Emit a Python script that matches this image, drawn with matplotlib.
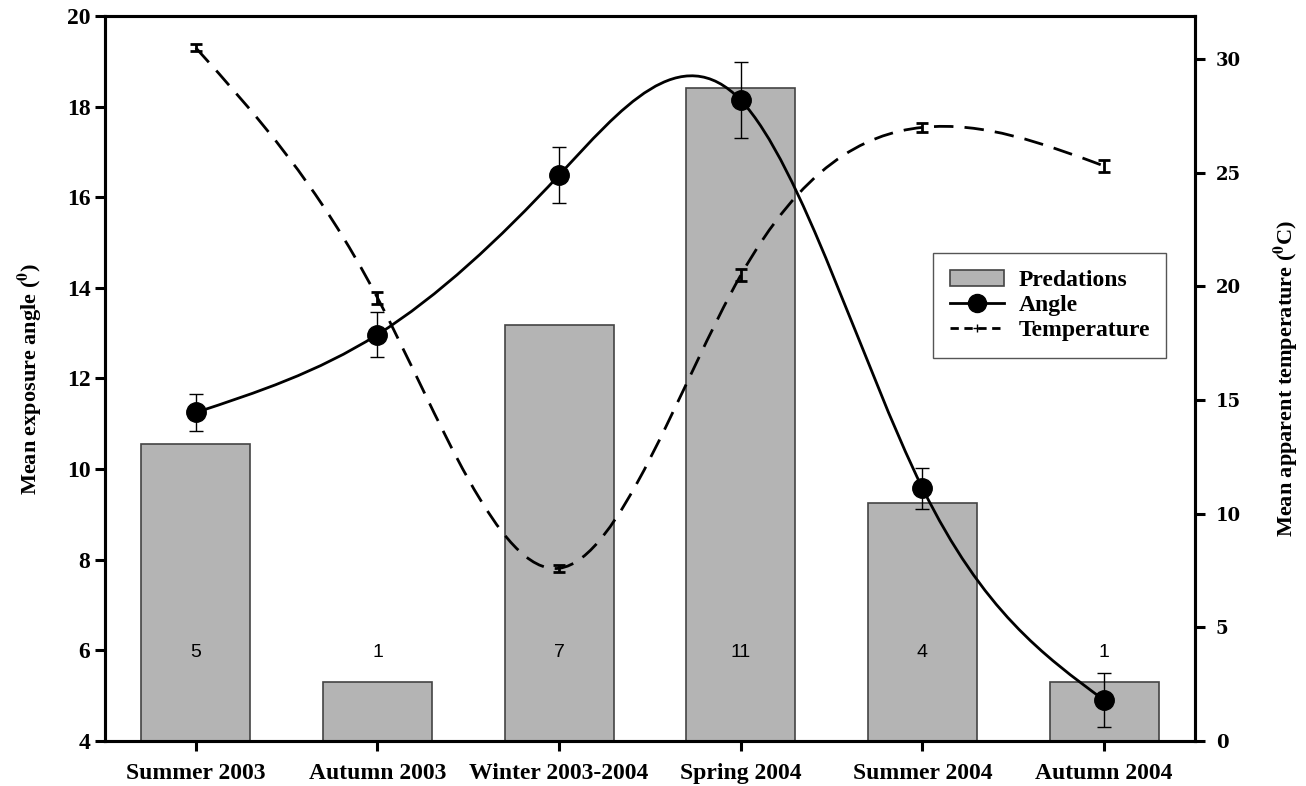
import numpy as np
import matplotlib
matplotlib.use("Agg")
import matplotlib.pyplot as plt
from matplotlib.path import Path
from matplotlib.patches import PathPatch, Patch
from matplotlib.lines import Line2D

plt.rcParams['font.family'] = ['Liberation Serif', 'DejaVu Serif']
plt.rcParams['mathtext.fontset'] = 'stix'

seasons = ['Summer 2003', 'Autumn 2003', 'Winter 2003-2004', 'Spring 2004', 'Summer 2004', 'Autumn 2004']
bar_height = [10.55, 5.30, 13.18, 18.42, 9.25, 5.30]
predations = [5, 1, 7, 11, 4, 1]
angle = [11.25, 12.97, 16.49, 18.14, 9.58, 4.90]
angle_err = [0.40, 0.50, 0.62, 0.84, 0.45, 0.60]
temperature = [30.5, 19.5, 7.6, 20.5, 27.0, 25.3]
temp_err = [0.15, 0.25, 0.15, 0.25, 0.20, 0.25]


# natural cubic spline drawn as bezier segments (like the sigmaplot spline curve)
def spline_path(x, y):
    x = np.asarray(x, float)
    y = np.asarray(y, float)
    n = len(x) - 1
    h = np.diff(x)
    A = np.zeros((n + 1, n + 1))
    r = np.zeros(n + 1)
    A[0, 0] = 1
    A[n, n] = 1
    for i in range(1, n):
        A[i, i - 1] = h[i - 1]
        A[i, i] = 2 * (h[i - 1] + h[i])
        A[i, i + 1] = h[i]
        r[i] = 6 * ((y[i + 1] - y[i]) / h[i] - (y[i] - y[i - 1]) / h[i - 1])
    M = np.linalg.solve(A, r)
    m = np.zeros(n + 1)
    for i in range(n):
        m[i] = (y[i + 1] - y[i]) / h[i] - h[i] * (2 * M[i] + M[i + 1]) / 6
    m[n] = (y[n] - y[n - 1]) / h[n - 1] + h[n - 1] * (M[n - 1] + 2 * M[n]) / 6
    verts = [(x[0], y[0])]
    codes = [Path.MOVETO]
    for i in range(n):
        verts += [(x[i] + h[i] / 3, y[i] + m[i] * h[i] / 3),
                  (x[i + 1] - h[i] / 3, y[i + 1] - m[i + 1] * h[i] / 3),
                  (x[i + 1], y[i + 1])]
        codes += [Path.CURVE4] * 3
    return Path(verts, codes)


xpos = np.arange(len(seasons))

fig = plt.figure(figsize=(13.06, 7.86), dpi=100)
ax = fig.add_axes([0.0804, 0.0573, 0.8346, 0.9223])
ax2 = ax.twinx()

ax.bar(xpos, bar_height, width=0.6, bottom=0, color='#b4b4b4', edgecolor='#444444', linewidth=1.2, zorder=1)
for i in range(len(seasons)):
    ax.text(xpos[i], 5.95, str(predations[i]), ha='center', va='center',
            fontsize=14, family='Liberation Sans', zorder=3)

ax.add_patch(PathPatch(spline_path(xpos, angle), fill=False, lw=2.0, color='black', zorder=4))
ax.errorbar(xpos, angle, yerr=angle_err, fmt='none', ecolor='black', elinewidth=1.0, capsize=5, capthick=1.0, zorder=4)
ax.plot(xpos, angle, 'o', color='black', ms=14, zorder=5)

ax2.add_patch(PathPatch(spline_path(xpos, temperature), fill=False, lw=2.0, color='black',
                        linestyle=(0, (7, 4)), zorder=4))
ax2.errorbar(xpos, temperature, yerr=temp_err, fmt='none', ecolor='black', elinewidth=2.0, capsize=4, capthick=2.0, zorder=4)

ax.set_xlim(-0.5, 5.5)
ax.set_ylim(4, 20)
ax.set_yticks(np.arange(4, 21, 2))
ax2.set_ylim(0, 31.9)
ax2.set_yticks(np.arange(0, 31, 5))
ax.set_xticks(xpos)
ax.set_xticklabels(seasons)

for a in (ax, ax2):
    for s in a.spines.values():
        s.set_linewidth(2.2)
ax.tick_params(axis='both', direction='out', length=7, width=2.2, labelsize=17)
ax.tick_params(axis='x', pad=9)
for lab in ax.get_xticklabels() + ax.get_yticklabels():
    lab.set_fontweight('bold')
ax2.tick_params(axis='y', direction='out', length=7, width=2.2, labelsize=13, pad=8)
for lab in ax2.get_yticklabels():
    lab.set_fontweight('bold')
    lab.set_family('DejaVu Serif')

ax.set_ylabel(r'Mean exposure angle ($^{\mathbf{0}}$)', fontsize=16, fontweight='bold', labelpad=16)
ax2.set_ylabel(r'Mean apparent temperature ($^{\mathbf{0}}$C)', fontsize=16, fontweight='bold', labelpad=22)

handles = [Patch(facecolor='#b4b4b4', edgecolor='#444444', linewidth=1.2),
           Line2D([], [], color='black', lw=2, marker='o', ms=13),
           Line2D([], [], color='black', lw=2, linestyle=(0, (3, 2)), marker='+', ms=6)]
leg = ax.legend(handles, ['Predations', 'Angle', 'Temperature'], loc='upper left',
                bbox_to_anchor=(0.76, 0.673), borderaxespad=0, frameon=True, fancybox=False,
                framealpha=1, edgecolor='#555555', prop={'weight': 'bold', 'size': 17},
                handlelength=2.3, borderpad=0.7, labelspacing=0.15, handletextpad=0.6)
leg.get_frame().set_linewidth(1.0)

fig.savefig('out.png', dpi=100)
